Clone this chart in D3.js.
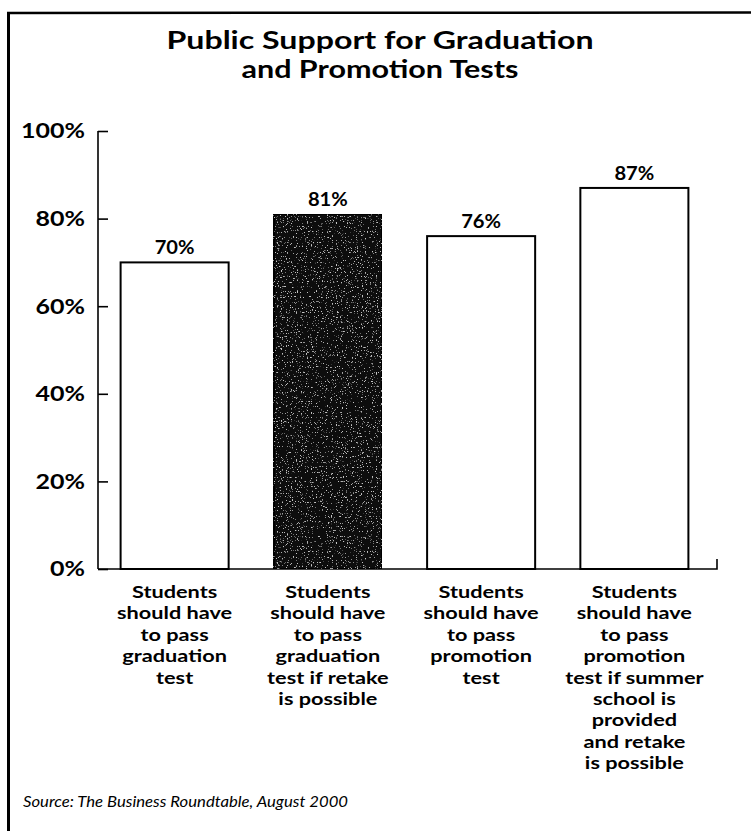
<!DOCTYPE html>
<html>
<head>
<meta charset="utf-8">
<script src="https://cdn.jsdelivr.net/npm/d3@7"></script>
<style>
  html, body { margin: 0; padding: 0; background: #fff; }
  svg { display: block; }
  text { font-family: Lato, "Open Sans", sans-serif; fill: #000; }
</style>
</head>
<body>
<svg id="chart" width="751" height="831"></svg>
<script>
const titleLines = ["Public Support for Graduation", "and Promotion Tests"];
const categories = [
  ["Students", "should have", "to pass", "graduation", "test"],
  ["Students", "should have", "to pass", "graduation", "test if retake", "is possible"],
  ["Students", "should have", "to pass", "promotion", "test"],
  ["Students", "should have", "to pass", "promotion", "test if summer", "school is", "provided", "and retake", "is possible"]
];
const values = [70, 81, 76, 87];
const highlighted = [false, true, false, false];
const yTicks = [0, 20, 40, 60, 80, 100];
const sourceText = "Source: The Business Roundtable, August 2000";

const svg = d3.select("#chart");
const SX = 1.22; // horizontal widening to mimic the wider original face

function fit(sel, w) {
  sel.each(function() {
    const len = this.getComputedTextLength();
    if (Math.abs(len - w) > 3) {
      d3.select(this).attr("textLength", w).attr("lengthAdjust", "spacingAndGlyphs");
    }
  });
}

// sparse grain for the dark bar
const defs = svg.append("defs");
const f = defs.append("filter").attr("id", "grain").attr("x", 0).attr("y", 0).attr("width", 1).attr("height", 1);
f.append("feTurbulence").attr("type", "fractalNoise").attr("baseFrequency", 0.8).attr("numOctaves", 2).attr("seed", 5).attr("result", "noise");
f.append("feColorMatrix").attr("in", "noise").attr("type", "matrix")
  .attr("values", "0 0 0 0 0.55  0 0 0 0 0.55  0 0 0 0 0.55  -9 0 0 0 3.2").attr("result", "specks");
f.append("feComposite").attr("in", "specks").attr("in2", "SourceGraphic").attr("operator", "in").attr("result", "sp");
f.append("feMerge").call(m => { m.append("feMergeNode").attr("in", "SourceGraphic"); m.append("feMergeNode").attr("in", "sp"); });

// frame
svg.append("line").attr("x1", 8.5).attr("x2", 8.5).attr("y1", 12).attr("y2", 831)
  .attr("stroke", "#000").attr("stroke-width", 3);
svg.append("line").attr("x1", 7).attr("x2", 751).attr("y1", 13).attr("y2", 12.5)
  .attr("stroke", "#000").attr("stroke-width", 2.5);

// title
const titleY = [49, 78];
const titleW = [427, 277];
titleLines.forEach((t, i) => {
  svg.append("text").attr("x", 380).attr("y", titleY[i]).attr("text-anchor", "middle")
    .attr("font-size", 25).attr("font-weight", 700).text(t)
    .call(fit, titleW[i]);
});

// scales
const x = d3.scaleBand().domain(d3.range(categories.length))
  .range([98, 711]).paddingInner(0.295).paddingOuter(0.1475);
const y = d3.scaleLinear().domain([0, 100]).range([569, 131]);

// y axis
const yAxis = d3.axisRight(y).tickValues(yTicks).tickSize(10).tickFormat("");
const gy = svg.append("g").attr("transform", "translate(98,0)").call(yAxis);
gy.select(".domain").attr("stroke", "#000").attr("stroke-width", 1.6).attr("d", `M0,${y(100)}V${y(0)}`);
gy.selectAll(".tick line").attr("stroke", "#000").attr("stroke-width", 1.6);

// y tick labels
svg.append("g").selectAll("text").data(yTicks).join("text")
  .attr("transform", d => `translate(85,${y(d)}) scale(1.22,1)`)
  .attr("dy", "0.36em")
  .attr("text-anchor", "end").attr("font-size", 20.5).attr("font-weight", 700)
  .text(d => d + "%");

// x baseline
svg.append("path").attr("d", `M98,${y(0)}H717V${y(0) - 10}`)
  .attr("fill", "none").attr("stroke", "#000").attr("stroke-width", 1.6);

// bars
svg.append("g").selectAll("rect").data(values).join("rect")
  .attr("x", (d, i) => x(i)).attr("width", x.bandwidth())
  .attr("y", d => y(d)).attr("height", d => y(0) - y(d))
  .attr("fill", (d, i) => highlighted[i] ? "#0c0c0c" : "#fff")
  .attr("filter", (d, i) => highlighted[i] ? "url(#grain)" : null)
  .attr("stroke", "#000").attr("stroke-width", 2);

// value labels
svg.append("g").selectAll("text").data(values).join("text")
  .attr("transform", (d, i) => `translate(${x(i) + x.bandwidth() / 2},${y(d) - 8}) scale(1.12,1)`)
  .attr("text-anchor", "middle").attr("font-size", 18).attr("font-weight", 700)
  .text(d => d + "%");

// category labels
const catG = svg.append("g");
categories.forEach((lines, i) => {
  const t = catG.append("text").attr("text-anchor", "middle")
    .attr("transform", `translate(${x(i) + x.bandwidth() / 2},0) scale(${SX},1)`)
    .attr("font-size", 17.8).attr("font-weight", 700);
  lines.forEach((ln, j) => {
    t.append("tspan").attr("x", 0).attr("y", 598 + j * 21.4).text(ln);
  });
});

// source
svg.append("text").attr("x", 23).attr("y", 807).attr("font-size", 14.5)
  .attr("font-style", "italic").text(sourceText).call(fit, 325);
</script>
</body>
</html>
